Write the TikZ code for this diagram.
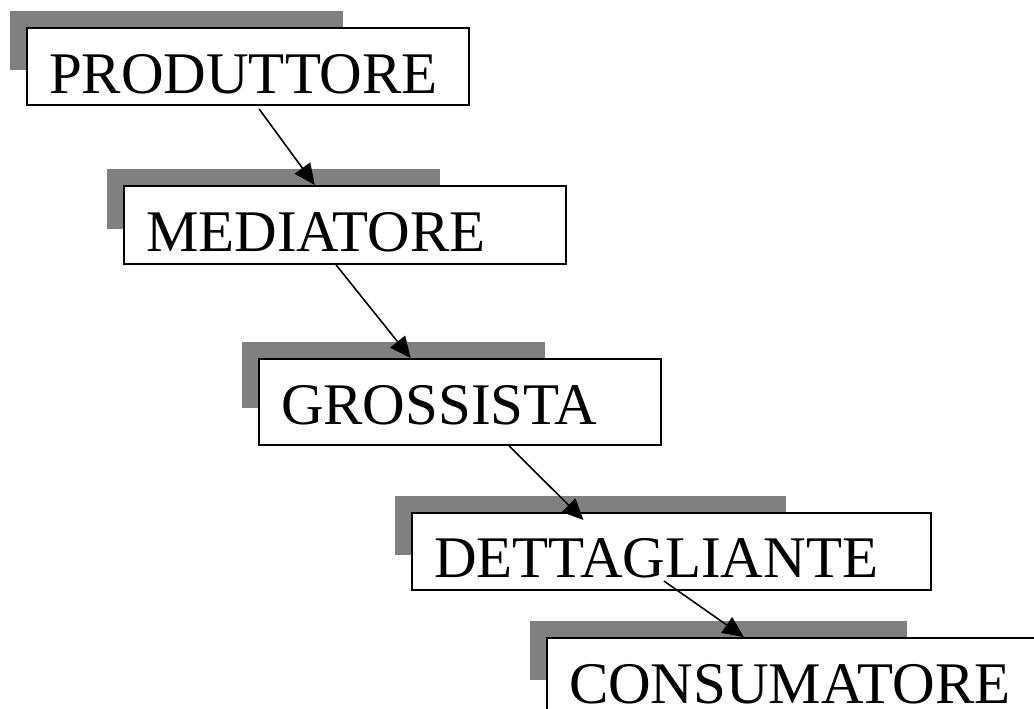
\documentclass[tikz,border=0pt]{standalone}
\usepackage{fontspec}
\setmainfont{Liberation Serif}
\usetikzlibrary{calc,arrows.meta,backgrounds}

\definecolor{shadowgrey}{RGB}{128,128,128}

\tikzset{
  chainbox/.style={draw=black, line width=2pt, fill=white, anchor=north west,
    inner xsep=22pt, inner ysep=0pt, align=left,
    font=\fontsize{59}{70}\selectfont, text height=65pt},
  backplate/.style={fill=shadowgrey},
  flow/.style={draw=black, line width=1.6pt, -{Triangle[length=21pt,width=19pt]}}
}

% grey plate behind a box: three quarters of its size, shifted up and left
\newcommand{\plate}[1]{%
  \fill[backplate] ($(#1.north west)+(-16,-16)$) rectangle
    ($(#1.north west)!0.75!(#1.south east)+(-16,-16)$);}

\begin{document}
\begin{tikzpicture}[x=1pt,y=-1pt]
  \useasboundingbox (0,0) rectangle (1034,709);
  \clip (0,0) rectangle (1034,709);

  % the chain of boxes
  \node[chainbox, text width=398pt, text depth=12pt] (prod) at (26,27)  {\mbox{PRODUTTORE}};
  \node[chainbox, text width=398pt, text depth=13pt] (med)  at (123,185) {\mbox{MEDIATORE}};
  \node[chainbox, text width=358pt, text depth=21pt] (gros) at (258,358) {\mbox{GROSSISTA}};
  \node[chainbox, text width=475pt, text height=64pt, text depth=13pt] (dett) at (411,512) {\mbox{DETTAGLIANTE}};
  \node[chainbox, text width=456pt, text depth=12pt] (cons) at (546,637) {\mbox{CONSUMATORE}};

  % grey plates behind the boxes
  \begin{scope}[on background layer]
    \plate{prod}
    \plate{med}
    \plate{gros}
    \plate{dett}
    \plate{cons}
  \end{scope}

  % arrows from each box to the next
  \draw[flow] ($(prod.south west)!0.525!(prod.south east)+(0,3)$) --
              ($(med.north west)!0.432!(med.north east)$);
  \draw[flow] ($(med.south west)!0.48!(med.south east)$) --
              ($(gros.north west)!0.378!(gros.north east)$);
  \draw[flow] ($(gros.south west)!0.622!(gros.south east)$) --
              ($(dett.north west)!0.331!(dett.north east)+(0,8)$);
  \draw[flow] ($(dett.south west)!0.4855!(dett.south east)+(0,-10)$) --
              ($(cons.north west)!0.394!(cons.north east)$);
\end{tikzpicture}
\end{document}
